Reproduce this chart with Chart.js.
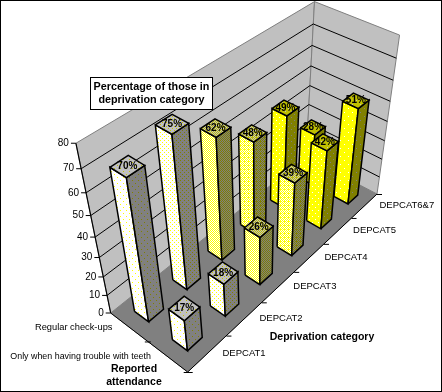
<!DOCTYPE html>
<html>
<head>
<meta charset="utf-8">
<title>Reported attendance by deprivation category</title>
<script src="https://cdn.jsdelivr.net/npm/chart.js@4"></script>
<style>
  html, body { margin: 0; padding: 0; background: #fff; }
  canvas { display: block; }
</style>
</head>
<body>
<canvas id="grafico" width="442" height="392"></canvas>
<script>
const depcats = ['DEPCAT1', 'DEPCAT2', 'DEPCAT3', 'DEPCAT4', 'DEPCAT5', 'DEPCAT6&7'];
const attendance = ['Regular check-ups', 'Only when having trouble with teeth'];
const regular = [70, 75, 62, 48, 49, 28];
const onlyTrouble = [17, 18, 26, 39, 42, 51];
const valueTicks = [0, 10, 20, 30, 40, 50, 60, 70, 80];
const titleLines = ['Percentage of those in', 'deprivation category'];
const depTitle = 'Deprivation category';
const attTitle = ['Reported', 'attendance'];

const rows = [regular, onlyTrouble];
const valueMax = 80;

// floor corners and vertical vanishing point, measured on the picture
const floor = [[110.7, 313], [306, 157], [377, 194], [187.7, 372]];
const vanish = [258, 1032];
const heightK = -0.191;
const barWidth = 0.38;

// turn the unit floor square into a homography
const sx = floor[0][0] - floor[1][0] + floor[2][0] - floor[3][0];
const sy = floor[0][1] - floor[1][1] + floor[2][1] - floor[3][1];
const dx1 = floor[1][0] - floor[2][0], dx2 = floor[3][0] - floor[2][0];
const dy1 = floor[1][1] - floor[2][1], dy2 = floor[3][1] - floor[2][1];
const den = dx1 * dy2 - dx2 * dy1;
const hg = (sx * dy2 - dx2 * sy) / den;
const hi = (dx1 * sy - sx * dy1) / den;

// u: slots along depcat axis, v: slots along attendance axis, val: percent
function project(u, v, val) {
  const a = u / depcats.length, b = v / attendance.length;
  const k = heightK * val / valueMax;
  const X = (floor[1][0] - floor[0][0] + hg * floor[1][0]) * a + (floor[3][0] - floor[0][0] + hi * floor[3][0]) * b + floor[0][0] + k * vanish[0];
  const Y = (floor[1][1] - floor[0][1] + hg * floor[1][1]) * a + (floor[3][1] - floor[0][1] + hi * floor[3][1]) * b + floor[0][1] + k * vanish[1];
  const w = hg * a + hi * b + 1 + k;
  return { x: X / w, y: Y / w };
}

// dotted fills like the old Excel shading
function dots(bg, dot, tile, list) {
  const c = document.createElement('canvas');
  c.width = c.height = tile;
  const g = c.getContext('2d');
  g.fillStyle = bg;
  g.fillRect(0, 0, tile, tile);
  g.fillStyle = dot;
  list.forEach(p => g.fillRect(p[0], p[1], 1, 1));
  return document.createElement('canvas').getContext('2d').createPattern(c, 'repeat');
}

function shade(i, white, yellow) {
  if (i === 0) return dots(white, yellow, 6, [[0, 0], [3, 3]]);
  if (i === 1) return dots(white, yellow, 4, [[0, 0], [2, 2]]);
  if (i === 2) return dots(white, yellow, 2, [[0, 0], [1, 1]]);
  if (i === 3) return dots(white, yellow, 4, [[0, 0], [2, 0], [1, 1], [3, 1], [0, 2], [2, 2], [1, 3], [3, 3], [0, 1]]);
  if (i === 4) return dots(yellow, white, 6, [[0, 0], [3, 3]]);
  return dots(yellow, white, 8, [[0, 0], [4, 4]]);
}

const datasets = [];

// Chart.js paints the highest order first, so each new face gets a lower one
function face(points, fillStyle, color, width) {
  datasets.push({
    data: points,
    faceFill: fillStyle,
    order: -datasets.length,
    borderColor: color === undefined ? '#000' : color,
    borderWidth: width === undefined ? 1.5 : width,
    showLine: true,
    pointRadius: 0,
    tension: 0
  });
}

const nu = depcats.length, nv = attendance.length;

// floor and walls
face([project(0, 0, 0), project(nu, 0, 0), project(nu, nv, 0), project(0, nv, 0), project(0, 0, 0)], '#808080', '#808080', 1);
face([project(0, 0, 0), project(nu, 0, 0), project(nu, 0, valueMax), project(0, 0, valueMax), project(0, 0, 0)], '#c0c0c0', '#808080', 1);
face([project(nu, 0, 0), project(nu, nv, 0), project(nu, nv, valueMax), project(nu, 0, valueMax), project(nu, 0, 0)], '#c0c0c0', '#808080', 1);

// gridlines on the walls
valueTicks.forEach(t => {
  if (t === 0 || t === valueMax) return;
  face([project(0, 0, t), project(nu, 0, t), project(nu, nv, t)], null, '#000', 1);
});
face([project(0, 0, 0), project(0, 0, valueMax)], null, '#000', 1.2);
face([project(0, 0, 0), project(0, nv, 0), project(nu, nv, 0)], null, '#000', 1);

// bars, back row first and far categories first
rows.forEach((serie, r) => {
  for (let c = nu - 1; c >= 0; c--) {
    const val = serie[c];
    const u0 = c + (1 - barWidth) / 2, u1 = u0 + barWidth;
    const v0 = r + (1 - barWidth) / 2, v1 = v0 + barWidth;
    face([project(u0, v0, 0), project(u0, v1, 0), project(u0, v1, val), project(u0, v0, val), project(u0, v0, 0)], shade(c, '#ffffff', '#ffff00'));
    face([project(u0, v1, 0), project(u1, v1, 0), project(u1, v1, val), project(u0, v1, val), project(u0, v1, 0)], shade(c, '#808080', '#808000'));
    face([project(u0, v0, val), project(u0, v1, val), project(u1, v1, val), project(u1, v0, val), project(u0, v0, val)], shade(c, '#c0c0c0', '#c0c000'));
  }
});

function text(ctx, s, x, y, font, align) {
  ctx.font = font;
  ctx.textAlign = align;
  ctx.textBaseline = 'middle';
  ctx.fillStyle = '#000';
  ctx.fillText(s, x, y);
}

function tick(ctx, x0, y0, x1, y1) {
  ctx.beginPath();
  ctx.moveTo(x0, y0);
  ctx.lineTo(x1, y1);
  ctx.stroke();
}

const escena = {
  id: 'escena',
  beforeDraw(chart) {
    const ctx = chart.ctx;
    ctx.save();
    ctx.fillStyle = '#fff';
    ctx.fillRect(0, 0, 442, 392);
    ctx.restore();
  },
  // the line elements only stroke, so the polygon fill goes in here
  beforeDatasetDraw(chart, args) {
    const ds = chart.data.datasets[args.index];
    if (!ds.faceFill) return;
    const pts = args.meta.data;
    const ctx = chart.ctx;
    ctx.save();
    ctx.fillStyle = ds.faceFill;
    ctx.beginPath();
    pts.forEach((p, i) => i ? ctx.lineTo(p.x, p.y) : ctx.moveTo(p.x, p.y));
    ctx.closePath();
    ctx.fill();
    ctx.restore();
  },
  afterDatasetsDraw(chart) {
    const ctx = chart.ctx;
    const bold = 'bold 10.5px "Liberation Sans"';
    ctx.save();
    ctx.strokeStyle = '#000';
    ctx.lineWidth = 1;

    // value axis
    valueTicks.forEach(t => {
      const p = project(0, 0, t);
      tick(ctx, p.x - 5, p.y, p.x, p.y);
      text(ctx, String(t), p.x - 7, p.y, '10px "Liberation Sans"', 'right');
    });

    // depcat axis
    for (let i = 0; i <= nu; i++) {
      const p = project(i, nv, 0);
      tick(ctx, p.x - (i === 0 ? 4 : 0), p.y + 0.5, p.x + 5, p.y + 0.5);
    }
    depcats.forEach((d, i) => {
      const p = project(i + 0.5, nv, 0);
      text(ctx, d, p.x + 15, p.y, '9.5px "Liberation Sans"', 'left');
    });

    // attendance axis
    const m = project(0, 1, 0);
    tick(ctx, m.x - 3, m.y + 0.5, m.x + 3, m.y + 0.5);
    attendance.forEach((a, i) => {
      const p = project(0, i + 0.5, 0);
      text(ctx, a, p.x - 16.5, p.y, i ? '8.9px "Liberation Sans"' : '9.3px "Liberation Sans"', 'right');
    });

    // percent labels on the bar tops
    rows.forEach((serie, r) => {
      serie.forEach((val, c) => {
        const p = project(c + 0.5, r + 0.5, val);
        text(ctx, val + '%', p.x, p.y, 'bold 10px "Liberation Sans"', 'center');
      });
    });

    // title box
    ctx.fillStyle = '#fff';
    ctx.fillRect(90.5, 77.5, 122, 32);
    ctx.strokeRect(90.5, 77.5, 122, 32);
    titleLines.forEach((l, i) => text(ctx, l, 151.5, 87 + i * 13, 'bold 10.8px "Liberation Sans"', 'center'));

    text(ctx, depTitle, 322, 337, bold, 'center');
    attTitle.forEach((l, i) => text(ctx, l, 134, 369 + i * 13, bold, 'center'));

    // frame of the picture
    ctx.strokeStyle = '#000';
    ctx.strokeRect(0.5, 0.5, 441, 391);
    ctx.restore();
  }
};

new Chart(document.getElementById('grafico'), {
  type: 'scatter',
  data: { datasets },
  options: {
    responsive: false,
    animation: false,
    layout: { padding: 0 },
    plugins: { legend: { display: false }, tooltip: { enabled: false }, title: { display: false } },
    scales: {
      x: { type: 'linear', min: 0, max: 442, display: false },
      y: { type: 'linear', min: 0, max: 392, reverse: true, display: false }
    }
  },
  plugins: [escena]
});
</script>
</body>
</html>
